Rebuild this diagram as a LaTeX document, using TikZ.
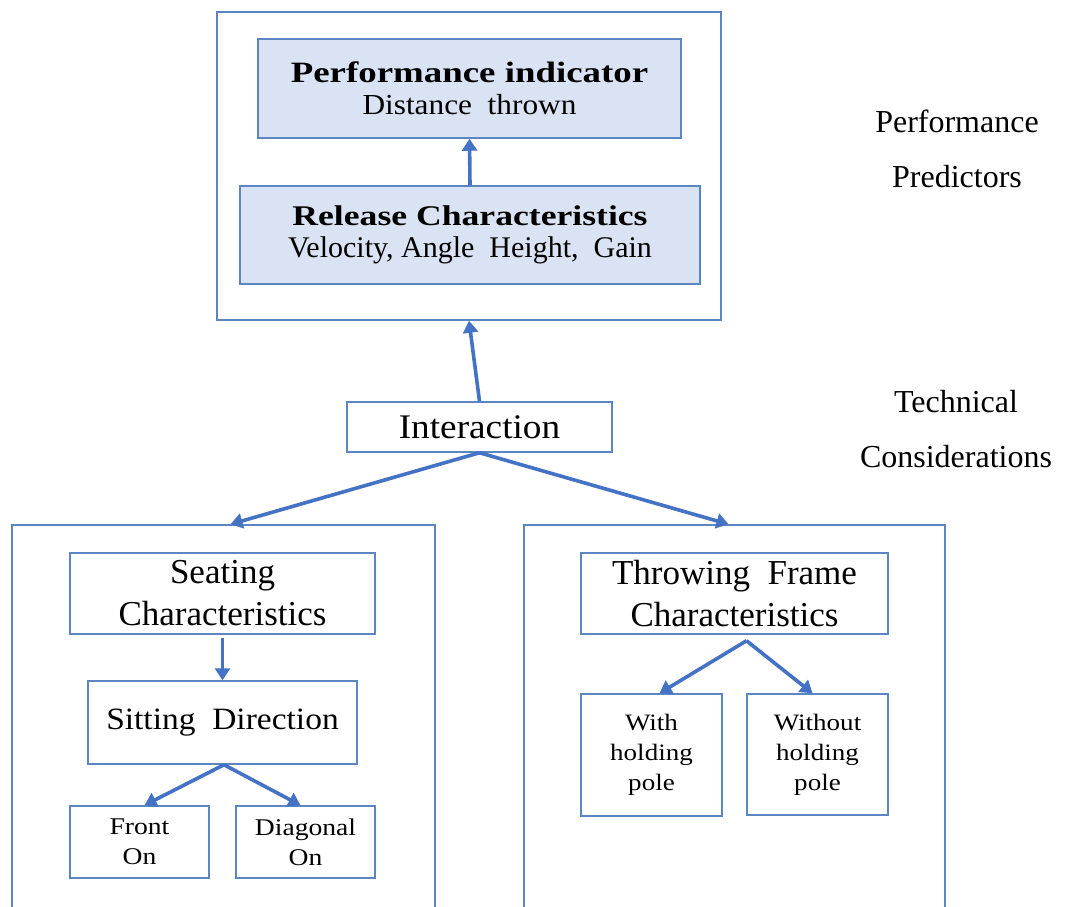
\documentclass[tikz,border=0pt]{standalone}
\usepackage{fontspec}
\setmainfont{Liberation Serif}
\newfontfamily\headfont{Liberation Serif}[FakeStretch=1.25]
\newfontfamily\midfont{Liberation Serif}[FakeStretch=1.08]
\newfontfamily\smallfont{Liberation Serif}[FakeStretch=1.15]
\usetikzlibrary{arrows.meta}
\definecolor{frameblue}{RGB}{91,134,193}
\definecolor{arrowblue}{RGB}{68,114,196}
\definecolor{panelfill}{RGB}{218,227,243}
\tikzset{
  box/.style={draw=frameblue, line width=1.5pt, rectangle, inner sep=0pt,
    align=center, text=black},
  shaded/.style={box, fill=panelfill, font=\fontsize{29.5}{32}\selectfont},
  container/.style={draw=frameblue, line width=1.5pt, rectangle, inner sep=0pt},
  link/.style={draw=arrowblue, line width=3.6pt,
    -{Triangle[width=15pt,length=12pt]}},
  sidelabel/.style={align=center, inner sep=0pt, text=black,
    font=\fontsize{32}{55}\selectfont}
}
\begin{document}
\begin{tikzpicture}[x=1pt, y=-1pt]
\useasboundingbox (0,0) rectangle (1065,907);
\fill[white] (0,0) rectangle (1065,907);

% upper group: performance predictors
\node[container, minimum width=504pt, minimum height=308pt] (topbox) at (469,166) {};
\node[shaded, minimum width=423pt, minimum height=99pt] (perf) at (469.5,88.5)
  {{\headfont\bfseries Performance indicator}\\
   {\midfont\fontsize{29}{32}\selectfont Distance\ \ thrown}};
\node[shaded, minimum width=460pt, minimum height=98pt] (release) at (470,235)
  {{\headfont\bfseries\fontsize{28.5}{32}\selectfont Release Characteristics}\\
   {\fontsize{30}{32}\selectfont Velocity,\ Angle\ \ Height,\ \ Gain}};

% interaction node
\node[box, minimum width=265pt, minimum height=50pt,
  font=\midfont\fontsize{34.5}{40}\selectfont] (inter) at (479.5,427) {Interaction};

% lower left group: seating
\node[container, minimum width=423pt, minimum height=405pt] (leftbox) at (223.5,727.5) {};
\node[box, minimum width=305pt, minimum height=81pt,
  font=\fontsize{35}{42}\selectfont] (seat) at (222.5,593.5)
  {Seating\\Characteristics};
\node[box, minimum width=269pt, minimum height=83pt,
  font=\midfont\fontsize{31}{36}\selectfont] (sit) at (222.5,722.5)
  {Sitting\ \ Direction};
\node[box, minimum width=139pt, minimum height=72pt,
  font=\smallfont\fontsize{24}{30}\selectfont] (front) at (139.5,842)
  {Front\\On};
\node[box, minimum width=139pt, minimum height=72pt,
  font=\smallfont\fontsize{24}{30}\selectfont] (diag) at (305.5,842)
  {Diagonal\\On};

% lower right group: throwing frame
\node[container, minimum width=421pt, minimum height=405pt] (rightbox) at (734.5,727.5) {};
\node[box, minimum width=307pt, minimum height=81pt,
  font=\fontsize{35}{42}\selectfont] (frame) at (734.5,593.5)
  {Throwing\ \ Frame\\Characteristics};
\node[box, minimum width=141pt, minimum height=122pt,
  font=\smallfont\fontsize{23.5}{30}\selectfont] (with) at (651.5,755)
  {With\\holding\\pole};
\node[box, minimum width=141pt, minimum height=121pt,
  font=\smallfont\fontsize{23.5}{30}\selectfont] (without) at (817.5,754.5)
  {Without\\holding\\pole};

% side labels
\node[sidelabel] (predlab) at (957,149) {Performance\\Predictors};
\node[sidelabel] (techlab) at (956,429) {Technical\\Considerations};

% connectors
\draw[link] (release.north) -- (perf.south);
\draw[link] (inter.north) -- (topbox.south);
\draw[link] (inter.south) -- ([xshift=7pt]leftbox.north);
\draw[link] (inter.south) -- ([xshift=-6pt]rightbox.north);
\draw[link] ([yshift=-3pt]seat.south) -- (sit.north);
\draw[link] ([xshift=1.5pt]sit.south) -- ([xshift=5pt]front.north);
\draw[link] ([xshift=1.5pt]sit.south) -- ([xshift=-5pt]diag.north);
\draw[link] ([xshift=12pt,yshift=-6pt]frame.south) -- ([xshift=8pt]with.north);
\draw[link] ([xshift=12pt,yshift=-6pt]frame.south) -- ([xshift=-5pt]without.north);
\end{tikzpicture}
\end{document}
